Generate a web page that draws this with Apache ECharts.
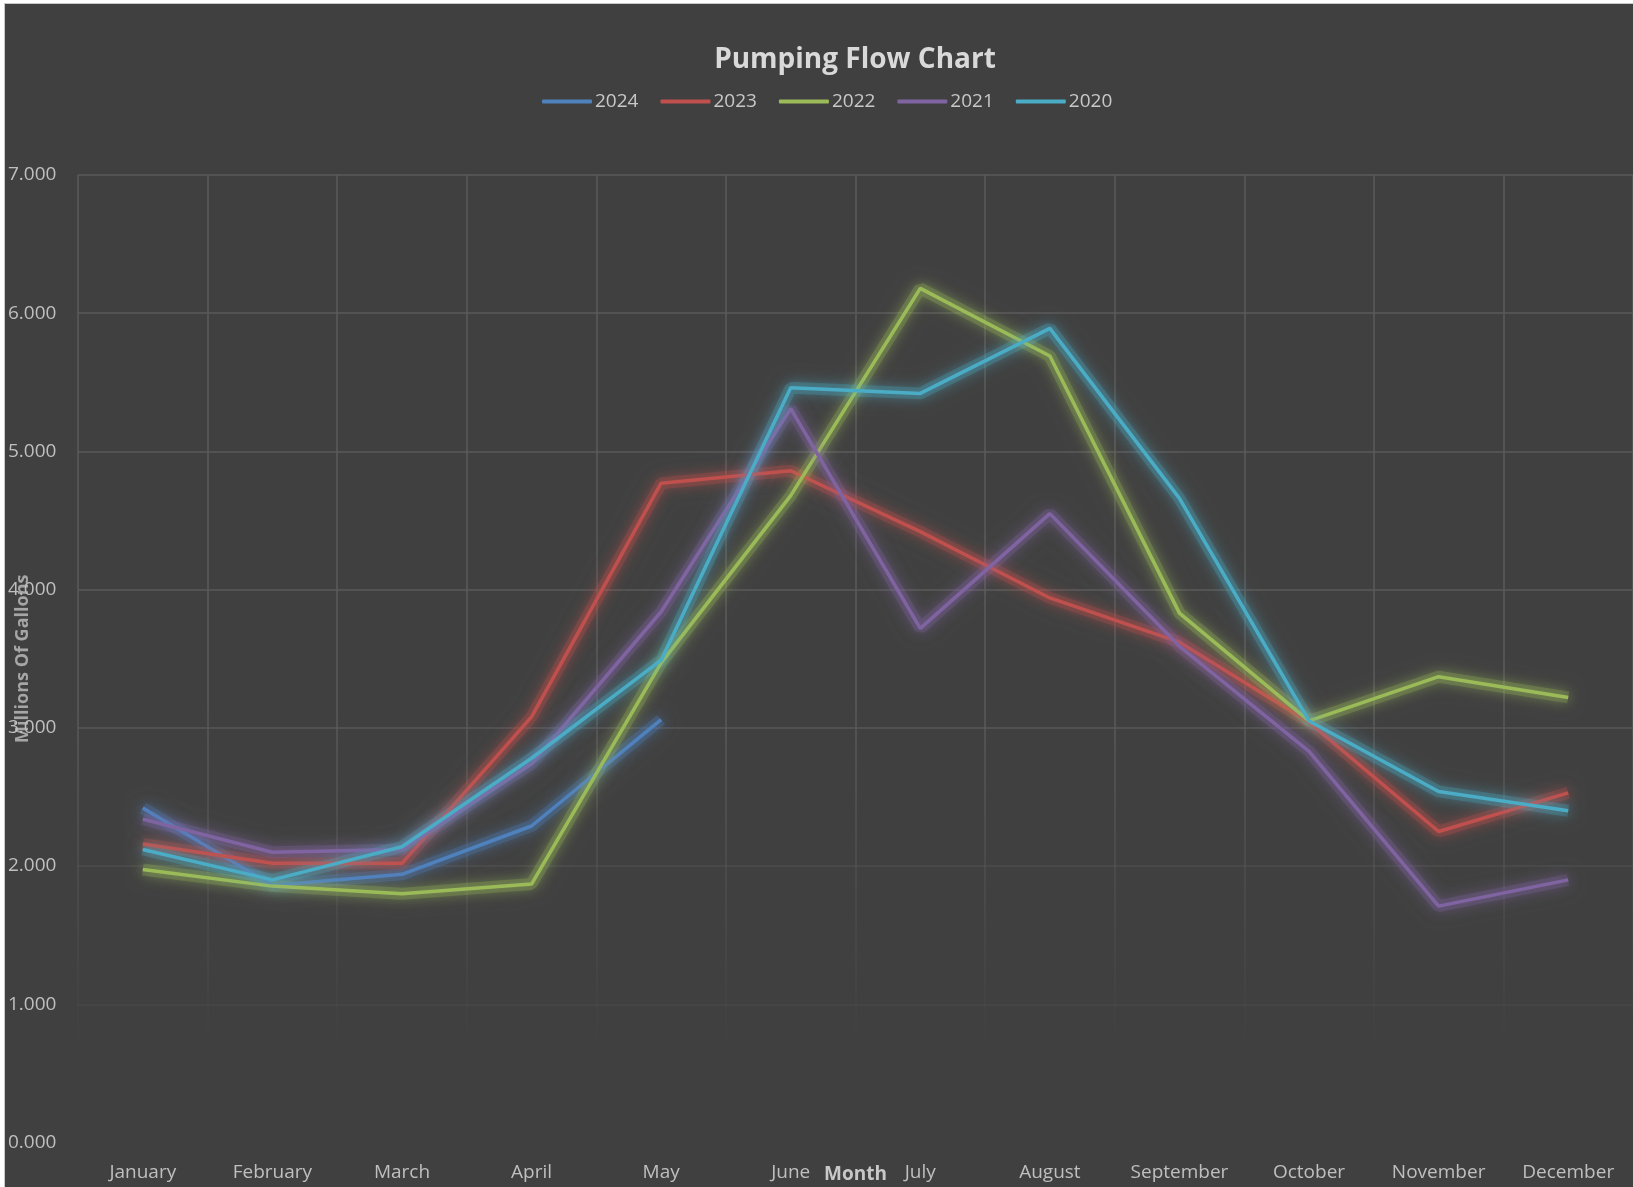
<!DOCTYPE html>
<html>
<head>
<meta charset="utf-8">
<script src="https://cdn.jsdelivr.net/npm/echarts@6/dist/echarts.min.js"></script>
<style>
  html, body { margin: 0; padding: 0; background: #ffffff; width: 1633px; height: 1187px; overflow: hidden; }
  #wrap { position: absolute; left: 4px; top: 3px; width: 1628px; height: 1183px; border-left: 1px solid #c8c8c8; border-top: 1px solid #c8c8c8; }
  #chart { width: 1628px; height: 1183px; }
</style>
</head>
<body>
<div id="wrap"><div id="chart"></div></div>
<script>
const months = ['January','February','March','April','May','June','July','August','September','October','November','December'];
const seriesNames = ['2024','2023','2022','2021','2020'];
const s2024 = [2.42, 1.86, 1.94, 2.29, 3.06, null, null, null, null, null, null, null];
const s2023 = [2.16, 2.02, 2.02, 3.08, 4.77, 4.86, 4.42, 3.94, 3.62, 3.04, 2.25, 2.53];
const s2022 = [1.975, 1.855, 1.80, 1.87, 3.47, 4.68, 6.18, 5.69, 3.83, 3.05, 3.37, 3.22];
const s2021 = [2.34, 2.10, 2.12, 2.74, 3.84, 5.31, 3.72, 4.55, 3.59, 2.83, 1.71, 1.90];
const s2020 = [2.12, 1.90, 2.14, 2.78, 3.49, 5.46, 5.42, 5.89, 4.66, 3.05, 2.54, 2.40];
const yTicks = [0, 1, 2, 3, 4, 5, 6, 7];
const colors = ['#4F81BD', '#C0504D', '#9BBB59', '#8064A2', '#4BACC6'];
const glow = ['rgba(79,129,189,0.9)', 'rgba(192,80,77,0.9)', 'rgba(155,187,89,0.9)', 'rgba(128,100,162,0.9)', 'rgba(75,172,198,0.9)'];
const allData = [s2024, s2023, s2022, s2021, s2020];

const chart = echarts.init(document.getElementById('chart'), null, { renderer: 'canvas' });
const font = '"Open Sans", "Noto Sans", sans-serif';

const glowSeries = seriesNames.map((name, i) => ({
  name: name + ' glow',
  type: 'line',
  data: allData[i],
  showSymbol: false,
  symbol: 'none',
  silent: true,
  lineStyle: { width: 12, color: colors[i], opacity: 0.26, shadowBlur: 16, shadowColor: glow[i] },
  z: 1
}));
const mainSeries = seriesNames.map((name, i) => ({
  name: name,
  type: 'line',
  data: allData[i],
  showSymbol: false,
  symbol: 'none',
  connectNulls: false,
  lineStyle: { width: 3.5, color: colors[i], shadowBlur: 12, shadowColor: glow[i] },
  itemStyle: { color: colors[i] },
  z: 3
}));

const option = {
  backgroundColor: '#404040',
  animation: false,
  color: colors,
  title: {
    text: 'Pumping Flow Chart',
    left: 850,
    textAlign: 'center',
    top: 42,
    padding: 0,
    textStyle: { color: '#d9d9d9', fontSize: 28, fontWeight: 'bold', fontFamily: font }
  },
  legend: {
    data: seriesNames,
    left: 537,
    top: 88,
    padding: 0,
    itemWidth: 50,
    itemHeight: 4,
    itemGap: 22,
    icon: 'roundRect',
    textStyle: { color: '#c8c8c8', fontSize: 19, fontFamily: font, padding: [0, 0, 0, -2] }
  },
  grid: { left: 73, right: 0, top: 171, bottom: 44.5, containLabel: false, outerBoundsMode: 'none' },
  xAxis: {
    type: 'category',
    data: months,
    boundaryGap: true,
    name: 'Month',
    nameLocation: 'middle',
    nameGap: 23,
    nameMoveOverlap: false,
    nameTextStyle: { color: '#c8c8c8', fontSize: 19, fontWeight: 'bold', fontFamily: font },
    axisLine: { show: false },
    axisTick: { show: false },
    axisLabel: { color: '#bfbfbf', fontSize: 19, fontFamily: font, margin: 21, interval: 0, hideOverlap: false },
    splitLine: {
      show: true,
      lineStyle: {
        width: 1.5,
        color: new echarts.graphic.LinearGradient(0, 0, 0, 1, [
          { offset: 0, color: 'rgba(90,90,90,1)' },
          { offset: 0.55, color: 'rgba(90,90,90,1)' },
          { offset: 0.75, color: 'rgba(90,90,90,0.45)' },
          { offset: 0.9, color: 'rgba(90,90,90,0)' },
          { offset: 1, color: 'rgba(90,90,90,0)' }
        ])
      }
    }
  },
  yAxis: {
    type: 'value',
    min: yTicks[0],
    max: yTicks[yTicks.length - 1],
    interval: 1,
    name: 'Millions Of Gallons',
    nameLocation: 'middle',
    nameGap: 46,
    nameRotate: 90,
    nameMoveOverlap: false,
    nameTextStyle: { color: '#a6a6a6', fontSize: 18, fontWeight: 'bold', fontFamily: font },
    axisLine: { show: false },
    axisTick: { show: false },
    axisLabel: {
      color: '#bfbfbf', fontSize: 19, fontFamily: font, margin: 70, align: 'left',
      formatter: v => v.toFixed(3)
    },
    splitLine: {
      show: true,
      lineStyle: {
        width: 1.5,
        color: ['rgba(90,90,90,0)', 'rgba(90,90,90,0.3)', 'rgba(90,90,90,0.55)', 'rgba(90,90,90,0.95)', '#5a5a5a', '#5a5a5a', '#5a5a5a', '#5a5a5a']
      }
    }
  },
  series: glowSeries.concat(mainSeries)
};
chart.setOption(option);
</script>
</body>
</html>
